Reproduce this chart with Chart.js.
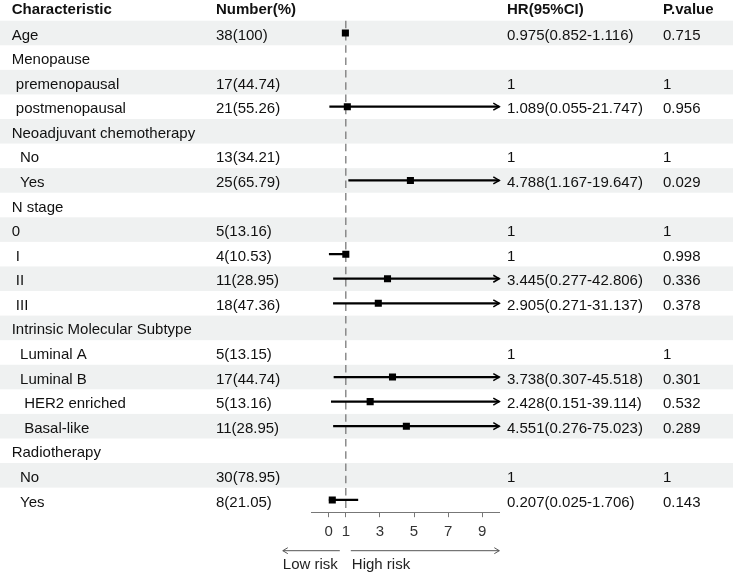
<!DOCTYPE html>
<html>
<head>
<meta charset="utf-8">
<script src="https://cdn.jsdelivr.net/npm/chart.js@4.4.1/dist/chart.umd.min.js"></script>
<style>
  html, body { margin: 0; padding: 0; background: #fff; }
  #wrap { width: 733px; height: 575px; position: relative; }
</style>
</head>
<body>
<div id="wrap"><canvas id="forest"></canvas></div>
<script>
// Table rows (leading spaces are the indents of the original table)
const characteristics = [
  'Age', 'Menopause', ' premenopausal', ' postmenopausal',
  'Neoadjuvant chemotherapy', '  No', '  Yes',
  'N stage', '0', ' I', ' II', ' III',
  'Intrinsic Molecular Subtype', '  Luminal A', '  Luminal B', '   HER2 enriched', '   Basal-like',
  'Radiotherapy', '  No', '  Yes'
];
const numbers = [
  '38(100)', '', '17(44.74)', '21(55.26)',
  '', '13(34.21)', '25(65.79)',
  '', '5(13.16)', '4(10.53)', '11(28.95)', '18(47.36)',
  '', '5(13.15)', '17(44.74)', '5(13.16)', '11(28.95)',
  '', '30(78.95)', '8(21.05)'
];
const hrText = [
  '0.975(0.852-1.116)', '', '1', '1.089(0.055-21.747)',
  '', '1', '4.788(1.167-19.647)',
  '', '1', '1', '3.445(0.277-42.806)', '2.905(0.271-31.137)',
  '', '1', '3.738(0.307-45.518)', '2.428(0.151-39.114)', '4.551(0.276-75.023)',
  '', '1', '0.207(0.025-1.706)'
];
const pValues = [
  '0.715', '', '1', '0.956',
  '', '1', '0.029',
  '', '1', '0.998', '0.336', '0.378',
  '', '1', '0.301', '0.532', '0.289',
  '', '1', '0.143'
];
// plotted estimates and intervals (null = reference row, no marker)
const hrEst = [0.975, null, null, 1.089, null, null, 4.788, null, null, 1, 3.445, 2.905,
  null, null, 3.738, 2.428, 4.551, null, null, 0.207];
const ciLower = [0.852, null, null, 0.055, null, null, 1.167, null, null, 0, 0.277, 0.271,
  null, null, 0.307, 0.151, 0.276, null, null, 0.025];
const ciUpper = [1.116, null, null, 21.747, null, null, 19.647, null, null, 1, 42.806, 31.137,
  null, null, 45.518, 39.114, 75.023, null, null, 1.706];
const headers = ['Characteristic', 'Number(%)', 'HR(95%CI)', 'P.value'];
const xTicks = [0, 1, 3, 5, 7, 9];
const xMin = -1, xMax = 10;

const FONT = '"Liberation Sans", Arial, sans-serif';
const TEXT = '#111';

const forestPlugin = {
  id: 'forest',
  beforeDraw(chart) {
    // zebra bands behind every other row
    const { ctx, chartArea, scales: { y } } = chart;
    const h = chartArea.height / characteristics.length;
    ctx.save();
    ctx.fillStyle = '#eff1f1';
    characteristics.forEach((_, i) => {
      if (i % 2 === 0) {
        const yc = y.getPixelForValue(i);
        ctx.fillRect(0, yc - h / 2, chart.width, h);
      }
    });
    ctx.restore();
  },
  beforeDatasetsDraw(chart) {
    // reference line at HR = 1
    const { ctx, chartArea, scales: { x } } = chart;
    const px = x.getPixelForValue(1);
    ctx.save();
    ctx.strokeStyle = '#7a7a7a';
    ctx.lineWidth = 1.3;
    ctx.setLineDash([7.5, 4.8]);
    ctx.beginPath();
    ctx.moveTo(px, chartArea.top);
    ctx.lineTo(px, chartArea.bottom);
    ctx.stroke();
    ctx.restore();
  },
  afterDatasetsDraw(chart) {
    // arrow heads for intervals running past the axis
    const { ctx, scales: { x, y } } = chart;
    ctx.save();
    ctx.strokeStyle = '#000';
    ctx.lineWidth = 1.5;
    ciUpper.forEach((u, i) => {
      if (u !== null && u > xMax) {
        const px = x.getPixelForValue(xMax);
        const py = y.getPixelForValue(i);
        ctx.beginPath();
        ctx.moveTo(px - 6, py - 3.5);
        ctx.lineTo(px, py);
        ctx.lineTo(px - 6, py + 3.5);
        ctx.stroke();
      }
    });
    ctx.restore();
  },
  afterDraw(chart) {
    const { ctx, chartArea, scales: { x, y } } = chart;
    const cols = [11.7, 216, 507, 663];
    const columns = [characteristics, numbers, hrText, pValues];
    ctx.save();
    ctx.textAlign = 'left';
    ctx.textBaseline = 'alphabetic';
    ctx.fillStyle = TEXT;
    ctx.font = 'bold 15px ' + FONT;
    headers.forEach((t, c) => ctx.fillText(t, cols[c], chartArea.top - 7.2));
    ctx.font = '15px ' + FONT;
    characteristics.forEach((_, i) => {
      const py = y.getPixelForValue(i) + 6.6;
      columns.forEach((col, c) => {
        if (col[i]) ctx.fillText(col[i], cols[c], py);
      });
    });

    // low / high risk arrows under the axis
    const p1 = x.getPixelForValue(1);
    const ay = 550.7;
    ctx.strokeStyle = '#555';
    ctx.lineWidth = 1;
    const arrow = (from, to) => {
      const d = Math.sign(to - from);
      ctx.beginPath();
      ctx.moveTo(from, ay);
      ctx.lineTo(to, ay);
      ctx.moveTo(to - d * 5, ay - 3);
      ctx.lineTo(to, ay);
      ctx.lineTo(to - d * 5, ay + 3);
      ctx.stroke();
    };
    arrow(p1 - 6, p1 - 63);
    arrow(p1 + 5, chartArea.right);
    ctx.fillStyle = '#222';
    ctx.fillText('Low risk', p1 - 63, 569);
    ctx.fillText('High risk', p1 + 6, 569);
    ctx.restore();
  }
};

new Chart(document.getElementById('forest'), {
  type: 'bar',
  data: {
    labels: characteristics,
    datasets: [
      {
        type: 'bar',
        data: characteristics.map((_, i) => ciLower[i] !== null ? [ciLower[i], ciUpper[i]] : null),
        backgroundColor: '#000',
        borderWidth: 0,
        barThickness: 1.6
      },
      {
        type: 'scatter',
        data: characteristics.map((_, i) => ({ x: hrEst[i], y: i })),
        pointStyle: 'rect',
        pointRadius: 5,
        pointBorderWidth: 0,
        backgroundColor: '#000'
      }
    ]
  },
  options: {
    indexAxis: 'y',
    responsive: true,
    maintainAspectRatio: false,
    animation: false,
    events: [],
    layout: { padding: { left: 311.7, right: 233.7, top: 20.7, bottom: 0 } },
    plugins: { legend: { display: false }, tooltip: { enabled: false } },
    scales: {
      y: {
        type: 'category',
        display: false,
        offset: true
      },
      x: {
        type: 'linear',
        min: xMin,
        max: xMax,
        afterBuildTicks: s => { s.ticks = xTicks.map(v => ({ value: v })); },
        afterFit: s => { s.height = 62.8; },
        grid: { display: true, drawOnChartArea: false, drawTicks: true, tickLength: 5, color: '#777' },
        border: { display: true, color: '#777', width: 1 },
        ticks: { color: '#333', padding: 6, font: { family: FONT, size: 15 }, maxRotation: 0 }
      }
    }
  },
  plugins: [forestPlugin]
});
</script>
</body>
</html>
